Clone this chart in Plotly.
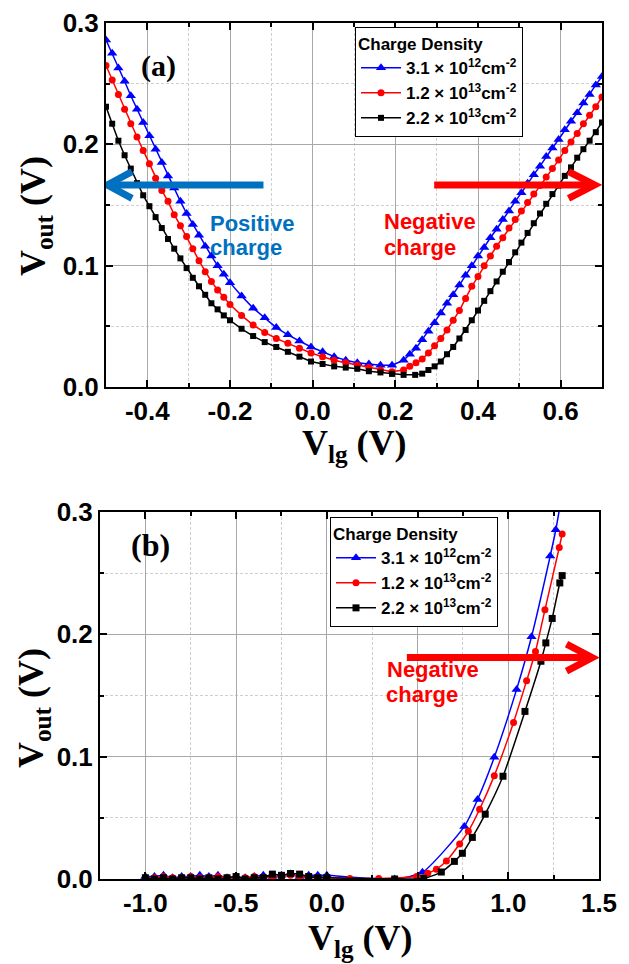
import plotly.graph_objects as go

W, H = 629, 964

# ---------------- Panel (a) data ----------------
a_blue_x = [-0.5, -0.485, -0.47, -0.455, -0.44, -0.425, -0.41, -0.395, -0.38, -0.365, -0.35, -0.335, -0.32, -0.305,
            -0.29, -0.275, -0.26, -0.245, -0.23, -0.215, -0.2,
            -0.172, -0.144, -0.116, -0.088, -0.06, -0.032, -0.004, 0.024, 0.052, 0.08, 0.108, 0.136, 0.164, 0.192, 0.22,
            0.235, 0.25, 0.265, 0.28, 0.295, 0.31, 0.325, 0.34, 0.355, 0.37, 0.385, 0.40, 0.415, 0.43, 0.445, 0.46,
            0.475, 0.49, 0.505, 0.52, 0.535, 0.55, 0.565, 0.58, 0.595, 0.61, 0.625, 0.64, 0.655, 0.67, 0.685, 0.70]
a_blue_y = [0.286, 0.275, 0.263, 0.252, 0.240, 0.229, 0.218, 0.207, 0.196, 0.185, 0.174, 0.164, 0.153, 0.143,
            0.134, 0.125, 0.116, 0.108, 0.100, 0.093, 0.086,
            0.075, 0.065, 0.057, 0.049, 0.043, 0.038, 0.033, 0.029, 0.025, 0.022, 0.020, 0.019, 0.018, 0.018, 0.022,
            0.027, 0.032, 0.039, 0.046, 0.053, 0.061, 0.069, 0.076, 0.084, 0.092, 0.100, 0.108, 0.115, 0.123, 0.130, 0.138,
            0.145, 0.153, 0.160, 0.168, 0.175, 0.182, 0.190, 0.197, 0.204, 0.212, 0.219, 0.226, 0.234, 0.241, 0.249, 0.256]

a_red_x = [-0.5, -0.485, -0.47, -0.455, -0.44, -0.425, -0.41, -0.395, -0.38, -0.365, -0.35, -0.335, -0.32, -0.305,
           -0.29, -0.275, -0.26, -0.245, -0.23, -0.215, -0.2,
           -0.172, -0.144, -0.116, -0.088, -0.06, -0.032, -0.004, 0.024, 0.052, 0.08, 0.108, 0.136, 0.164, 0.192, 0.22,
           0.235, 0.25, 0.265, 0.28, 0.295, 0.31, 0.325, 0.34, 0.355, 0.37, 0.385, 0.40, 0.415, 0.43, 0.445, 0.46,
           0.475, 0.49, 0.505, 0.52, 0.535, 0.55, 0.565, 0.58, 0.595, 0.61, 0.625, 0.64, 0.655, 0.67, 0.685, 0.70]
a_red_y = [0.265, 0.253, 0.241, 0.229, 0.217, 0.206, 0.195, 0.184, 0.172, 0.162, 0.153, 0.142, 0.133, 0.124,
           0.114, 0.104, 0.095, 0.087, 0.080, 0.074, 0.068,
           0.059, 0.051, 0.045, 0.040, 0.036, 0.032, 0.028, 0.025, 0.022, 0.020, 0.018, 0.016, 0.014, 0.0125, 0.014,
           0.017, 0.020, 0.023, 0.028, 0.034, 0.040, 0.047, 0.055, 0.063, 0.073, 0.083, 0.091, 0.100, 0.108, 0.116, 0.123,
           0.131, 0.138, 0.145, 0.152, 0.159, 0.166, 0.173, 0.180, 0.187, 0.195, 0.202, 0.209, 0.217, 0.224, 0.231, 0.239]

a_black_x = [-0.5, -0.485, -0.47, -0.455, -0.44, -0.425, -0.41, -0.395, -0.38, -0.365, -0.35, -0.335, -0.32, -0.305,
             -0.29, -0.275, -0.26, -0.245, -0.23, -0.215, -0.2,
             -0.172, -0.144, -0.116, -0.088, -0.06, -0.032, -0.004, 0.024, 0.052, 0.08, 0.108, 0.136, 0.164, 0.192,
             0.22, 0.248,
             0.265, 0.28, 0.295, 0.31, 0.325, 0.34, 0.355, 0.37, 0.385, 0.40, 0.415, 0.43, 0.445, 0.46, 0.475, 0.49,
             0.505, 0.52, 0.535, 0.55, 0.565, 0.58, 0.595, 0.61, 0.625, 0.64, 0.655, 0.67, 0.685, 0.70]
a_black_y = [0.231, 0.217, 0.203, 0.191, 0.180, 0.168, 0.158, 0.149, 0.140, 0.131, 0.122, 0.114, 0.106, 0.098,
             0.090, 0.083, 0.076, 0.069, 0.064, 0.059, 0.055,
             0.048, 0.042, 0.037, 0.033, 0.029, 0.025, 0.021, 0.019, 0.017, 0.016, 0.015, 0.013, 0.012, 0.0108,
             0.010, 0.010,
             0.011, 0.014, 0.017, 0.021, 0.027, 0.033, 0.040, 0.047, 0.055, 0.063, 0.071, 0.079, 0.087, 0.095, 0.103, 0.111,
             0.119, 0.127, 0.135, 0.143, 0.151, 0.159, 0.166, 0.174, 0.181, 0.189, 0.196, 0.203, 0.210, 0.218]

# ---------------- Panel (b) data ----------------
b_blue_x = [-1.0, -0.95, -0.9, -0.85, -0.8, -0.75, -0.7, -0.65, -0.6, -0.55, -0.5, -0.45, -0.4, -0.35, -0.3,
            -0.25, -0.2, -0.15, -0.1, -0.05, 0.0, 0.374, 0.527, 0.758, 0.831, 0.923, 1.046, 1.128, 1.231, 1.262, 1.30]
b_blue_y = [0.002, 0.002, 0.003, 0.001, 0.002, 0.002, 0.003, 0.002, 0.003, 0.001, 0.002, 0.001, 0.002, 0.003, 0.002,
            0.003, 0.004, 0.002, 0.003, 0.003, 0.003, 0.0, 0.0055, 0.043, 0.065, 0.0995, 0.155, 0.198, 0.264, 0.2855, 0.318]

b_red_x = [-1.0, -0.95, -0.9, -0.85, -0.8, -0.75, -0.7, -0.65, -0.6, -0.55, -0.5, -0.45, -0.4, -0.35, -0.3,
           -0.25, -0.2, -0.15, -0.1, -0.05, 0.0, 0.127, 0.286, 0.495, 0.556, 0.604, 0.659, 0.732, 0.780, 0.842,
           0.923, 1.029, 1.101, 1.150, 1.202, 1.281, 1.297]
b_red_y = [0.001, 0.001, 0.002, 0.001, 0.001, 0.002, 0.001, 0.001, 0.002, 0.001, 0.001, 0.001, 0.002, 0.001, 0.002,
           0.002, 0.003, 0.002, 0.001, 0.001, 0.001, 0.0005, 0.0005, 0.002, 0.0046, 0.008, 0.0147, 0.0286, 0.039, 0.057,
           0.0845, 0.128, 0.162, 0.186, 0.220, 0.271, 0.282]

b_black_x = [-1.0, -0.95, -0.9, -0.85, -0.8, -0.75, -0.7, -0.65, -0.6, -0.55, -0.5, -0.45, -0.4, -0.35, -0.3,
             -0.25, -0.2, -0.15, -0.1, -0.05, 0.0, 0.374, 0.534, 0.631, 0.703, 0.747, 0.802, 0.873, 0.971, 1.092,
             1.180, 1.207, 1.242, 1.284, 1.297]
b_black_y = [0.001, 0.000, 0.001, 0.000, 0.001, 0.001, 0.000, 0.001, 0.000, 0.001, 0.002, 0.000, 0.001, 0.001, 0.004,
             0.003, 0.0045, 0.004, 0.002, 0.001, 0.001, 0.0, 0.0005, 0.0057, 0.0144, 0.021, 0.034, 0.053, 0.084, 0.137,
             0.178, 0.193, 0.213, 0.242, 0.248]

# tick values / labels
a_xticks = [-0.4, -0.2, 0.0, 0.2, 0.4, 0.6]
a_xlabels = ["-0.4", "-0.2", "0.0", "0.2", "0.4", "0.6"]
b_xticks = [-1.0, -0.5, 0.0, 0.5, 1.0, 1.5]
b_xlabels = ["-1.0", "-0.5", "0.0", "0.5", "1.0", "1.5"]
yticks = [0.0, 0.1, 0.2, 0.3]
ylabels = ["0.0", "0.1", "0.2", "0.3"]

legend_names = ["3.1 × 10<sup>12</sup>cm<sup>-2</sup>",
                "1.2 × 10<sup>13</sup>cm<sup>-2</sup>",
                "2.2 × 10<sup>13</sup>cm<sup>-2</sup>"]
colors = ["#0000FF", "#FF0000", "#000000"]
symbols = ["triangle-up", "circle", "square"]

fig = go.Figure()

a_sets = [(a_blue_x, a_blue_y, 9), (a_red_x, a_red_y, 7), (a_black_x, a_black_y, 6)]
for (xs, ys, ms), name, c, s in zip(a_sets, legend_names, colors, symbols):
    fig.add_trace(go.Scatter(x=xs, y=ys, mode="lines+markers", name=name,
                             line=dict(color=c, width=1.5),
                             marker=dict(symbol=s, size=ms, color=c),
                             xaxis="x", yaxis="y", legend="legend"))

b_sets = [(b_blue_x, b_blue_y, 9), (b_red_x, b_red_y, 7), (b_black_x, b_black_y, 7)]
for (xs, ys, ms), name, c, s in zip(b_sets, legend_names, colors, symbols):
    fig.add_trace(go.Scatter(x=xs, y=ys, mode="lines+markers", name=name,
                             line=dict(color=c, width=1.5, shape="spline", smoothing=0.6),
                             marker=dict(symbol=s, size=ms, color=c),
                             xaxis="x2", yaxis="y2", legend="legend2"))

tickfont = dict(family="Liberation Sans", size=26, color="black")
major_grid = "#A8A8A8"
minor_grid = "#CFCFCF"


def axis_style(rng, tvals, tlabels, mdtick, domain, anchor):
    return dict(range=rng, tickmode="array", tickvals=tvals,
                ticktext=["<b>" + t + "</b>" for t in tlabels],
                domain=domain, anchor=anchor, automargin=False,
                showline=True, linecolor="black", linewidth=2, mirror="allticks",
                ticks="inside", ticklen=7, tickwidth=1.5, tickcolor="black",
                tickfont=tickfont,
                showgrid=True, gridcolor=major_grid, gridwidth=1,
                zeroline=False,
                minor=dict(dtick=mdtick, tick0=0, ticks="inside", ticklen=4, tickcolor="black",
                           showgrid=True, gridcolor=minor_grid, griddash="3px,2px", gridwidth=1))


def px(xp):
    return xp / W


def py(yp):
    return 1 - yp / H


legend_common = dict(xanchor="left", yanchor="top",
                     bordercolor="black", borderwidth=1, bgcolor="white",
                     itemwidth=40,
                     title=dict(text="<b>Charge Density</b>",
                                font=dict(family="Liberation Sans", size=17, color="black")),
                     font=dict(family="Liberation Sans", size=17, color="black", weight="bold"),
                     tracegroupgap=0)

fig.update_layout(
    template="plotly",
    width=W, height=H, margin=dict(l=0, r=0, t=0, b=0, autoexpand=False),
    paper_bgcolor="white", plot_bgcolor="white",
    xaxis=axis_style([-0.5, 0.7], a_xticks, a_xlabels, 0.1, [px(106), px(602)], "y"),
    yaxis=axis_style([0, 0.3], yticks, ylabels, 0.05, [py(387), py(23)], "x"),
    xaxis2=axis_style([-1.25, 1.5], b_xticks, b_xlabels, 0.25, [px(100), px(599)], "y2"),
    yaxis2=axis_style([0, 0.3], yticks, ylabels, 0.05, [py(879), py(512)], "x2"),
    legend=dict(x=px(355), y=py(27), **legend_common),
    legend2=dict(x=px(330), y=py(517), **legend_common),
    showlegend=True,
)

serif = dict(family="Liberation Serif", size=36, color="black", weight="bold")
sans_blue = dict(family="Liberation Sans", size=22, color="#0070C0", weight="bold")
sans_red = dict(family="Liberation Sans", size=22, color="#FF0000", weight="bold")

ann = []
# axis titles
ann.append(dict(text="V<sub>lg</sub> (V)", x=px(354), y=py(445), xref="paper", yref="paper",
                xanchor="center", yanchor="middle", showarrow=False, font=serif))
ann.append(dict(text="V<sub>lg</sub> (V)", x=px(360), y=py(940), xref="paper", yref="paper",
                xanchor="center", yanchor="middle", showarrow=False, font=serif))
ann.append(dict(text="V<sub>out</sub> (V)", x=px(36), y=py(216), xref="paper", yref="paper",
                xanchor="center", yanchor="middle", showarrow=False, font=serif, textangle=-90))
ann.append(dict(text="V<sub>out</sub> (V)", x=px(33), y=py(708), xref="paper", yref="paper",
                xanchor="center", yanchor="middle", showarrow=False, font=serif, textangle=-90))
# panel labels
ann.append(dict(text="(a)", x=px(139), y=py(47), xref="paper", yref="paper", showarrow=False,
                font=dict(family="Liberation Serif", size=30, color="black", weight="bold")))
ann.append(dict(text="(b)", x=px(129), y=py(545), xref="paper", yref="paper", showarrow=False,
                font=dict(family="Liberation Serif", size=32, color="black", weight="bold")))
# charge labels
ann.append(dict(text="Positive", x=px(208), y=py(209), xref="paper", yref="paper", xanchor="left",
                showarrow=False, font=sans_blue))
ann.append(dict(text="charge", x=px(208), y=py(233), xref="paper", yref="paper", xanchor="left",
                showarrow=False, font=sans_blue))
ann.append(dict(text="Negative", x=px(382), y=py(207), xref="paper", yref="paper", xanchor="left",
                showarrow=False, font=sans_red))
ann.append(dict(text="charge", x=px(382), y=py(233), xref="paper", yref="paper", xanchor="left",
                showarrow=False, font=sans_red))
ann.append(dict(text="Negative", x=px(385), y=py(684), xref="paper", yref="paper", xanchor="left",
                showarrow=False, font=sans_red))
ann.append(dict(text="charge", x=px(384), y=py(709), xref="paper", yref="paper", xanchor="left",
                showarrow=False, font=sans_red))
fig.update_layout(annotations=ann)

# arrows (shaft + chevron head)
shapes = [
    dict(type="line", xref="x", yref="y", x0=-0.119, y0=0.1665, x1=-0.495, y1=0.1665,
         line=dict(color="#0070C0", width=7)),
    dict(type="path", xref="x", yref="y", path="M -0.437,0.1775 L -0.497,0.1665 L -0.437,0.1555",
         line=dict(color="#0070C0", width=7)),
    dict(type="line", xref="x", yref="y", x0=0.294, y0=0.1665, x1=0.68, y1=0.1665,
         line=dict(color="#FF0000", width=7)),
    dict(type="path", xref="x", yref="y", path="M 0.619,0.1775 L 0.682,0.1665 L 0.619,0.1555",
         line=dict(color="#FF0000", width=7)),
    dict(type="line", xref="x2", yref="y2", x0=0.441, y0=0.181, x1=1.46, y1=0.181,
         line=dict(color="#FF0000", width=7)),
    dict(type="path", xref="x2", yref="y2", path="M 1.321,0.192 L 1.463,0.181 L 1.321,0.170",
         line=dict(color="#FF0000", width=7)),
]
fig.update_layout(shapes=shapes)

fig.write_html("out.html",
               config={"displayModeBar": False},
               post_script="document.body.style.margin='0';document.body.style.padding='0';")
